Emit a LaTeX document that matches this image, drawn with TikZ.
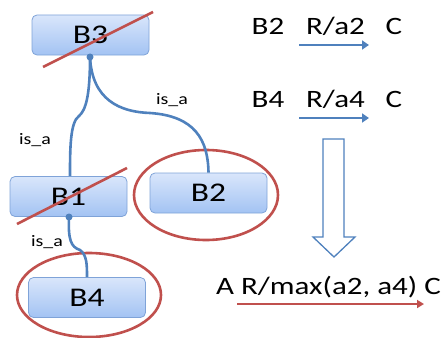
\documentclass[tikz,border=0pt]{standalone}
\usepackage{graphicx}
\usepackage{fontspec}
\setmainfont{Carlito}
\usetikzlibrary{shapes.geometric,arrows.meta}
\definecolor{cblue}{HTML}{4F81BD}
\definecolor{cred}{HTML}{C0504D}
\definecolor{bedge}{HTML}{7FA3D8}
\definecolor{btop}{HTML}{D9E6FB}
\definecolor{bbot}{HTML}{A3C3F3}
\newcommand{\wide}[1]{\scalebox{1.24}[1]{#1}}
\tikzset{
  box/.style={draw=bedge, line width=0.8pt, rounded corners=5pt, top color=btop, bottom color=bbot,
    minimum width=117pt, minimum height=40pt, inner sep=0pt, font=\fontsize{27}{27}\selectfont},
  link/.style={draw=cblue, line width=2.6pt},
  strike/.style={draw=cred, line width=2.6pt},
  ring/.style={draw=cred, line width=2.6pt, ellipse, inner sep=0pt},
  lbl/.style={font=\fontsize{16}{16}\selectfont, inner sep=0pt},
  rtxt/.style={font=\fontsize{25}{25}\selectfont, inner sep=0pt},
  rel/.style={draw=cblue, line width=2.4pt, -{Triangle[length=7pt,width=9pt]}},
}
\begin{document}
\begin{tikzpicture}[x=1pt,y=-1pt]
\useasboundingbox (0,0) rectangle (441,337);
% ellipses
\node[ring, minimum width=144pt, minimum height=90pt] (e2) at (206,195) {};
\node[ring, minimum width=144pt, minimum height=84pt] (e4) at (89,295) {};
% boxes
\node[box] (b3) at (90.5,35) {\wide{B3}};
\node[box] (b1) at (68.5,196.5) {\wide{B1}};
\node[box] (b2) at (208.5,193) {\wide{B2}};
\node[box] (b4) at (87,297.5) {\wide{B4}};
% strike lines
\coordinate (s3a) at (43,67);
\coordinate (s3b) at (153,12);
\coordinate (s1a) at (17,224);
\coordinate (s1b) at (127,168);
\draw[strike] (s3a) -- (s3b);
\draw[strike] (s1a) -- (s1b);
% connectors
\coordinate (d3) at (90,57);
\coordinate (d1) at (69,217);
\fill[cblue] (d3) circle (3.5pt);
\fill[cblue] (d1) circle (3.5pt);
\coordinate (k1) at (79,116);
\coordinate (k2) at (150,113);
\coordinate (k3) at (80,250);
\draw[link] (d3) .. controls (90,95) and (86,110) .. (k1) .. controls (70,122) and (70,150) .. (b1.north -| 70,0);
\draw[link] (d3) .. controls (92,100) and (120,112) .. (k2) .. controls (195,116) and (208,140) .. (b2.north);
\draw[link] (d1) .. controls (68,240) and (71,247) .. (k3) .. controls (87,255) and (87,265) .. (b4.north);
% labels
\node[lbl] (l1) at (172,100) {\wide{is\_a}};
\node[lbl] (l2) at (35,140) {\wide{is\_a}};
\node[lbl] (l3) at (47,242) {\wide{is\_a}};
% right side
\node[rtxt] (r1a) at (268,26) {\wide{B2}};
\node[rtxt] (r1b) at (335.5,26) {\wide{R/a2}};
\node[rtxt] (r1c) at (394,26) {\wide{C}};
\coordinate (a1s) at (299,45);
\coordinate (a1e) at (369,45);
\draw[rel] (a1s) -- (a1e);
\node[rtxt] (r2a) at (268,99) {\wide{B4}};
\node[rtxt] (r2b) at (335.5,99) {\wide{R/a4}};
\node[rtxt] (r2c) at (394,99) {\wide{C}};
\coordinate (a2s) at (299,118);
\coordinate (a2e) at (369,118);
\draw[rel] (a2s) -- (a2e);
% hollow arrow
\draw[draw=cblue, line width=1.3pt, fill=white, line join=miter]
  (323,139) -- (344,139) -- (344,237) -- (355,237) -- (334,257) -- (313,237) -- (323,237) -- cycle;
\node[rtxt] (r3) at (328.5,287) {\wide{A R/max(a2, a4) C}};
\coordinate (a3s) at (237,304);
\coordinate (a3e) at (424,304);
\draw[draw=cred, line width=1.8pt, -{Triangle[length=7pt,width=8pt]}] (a3s) -- (a3e);
\end{tikzpicture}
\end{document}
